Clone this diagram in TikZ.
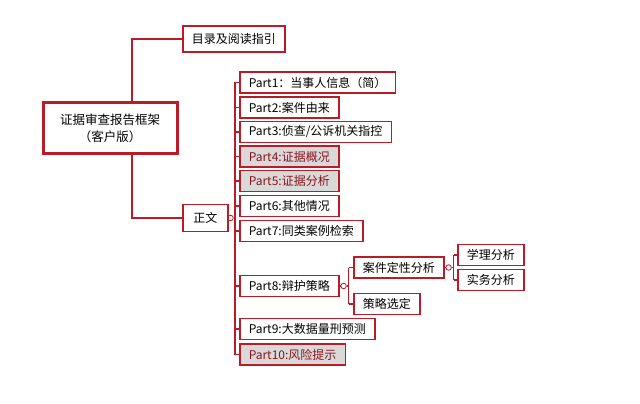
\documentclass[tikz,border=0pt]{standalone}
\usepackage{fontspec}
\setmainfont{Noto Sans CJK SC}
\definecolor{frame}{RGB}{185,28,38}
\definecolor{shade}{RGB}{217,217,217}
\definecolor{darktext}{RGB}{140,20,30}

\begin{document}
\begin{tikzpicture}[x=1pt, y=-1pt, font=\fontsize{12}{14}\selectfont, line width=1.6pt,
        box/.style={draw=frame, fill=white, anchor=west, minimum height=21pt, inner xsep=9pt, inner ysep=0pt},
        greybox/.style={box, fill=shade, text=darktext},
        dot/.style={circle, draw=frame, fill=white, line width=0.8pt, inner sep=0pt, minimum size=5.5pt},
        link/.style={draw=frame, line width=1.5pt}]
        \useasboundingbox (0,0) rectangle (640,404);

        \node[draw=frame, line width=3pt, fill=white, align=center, minimum width=134pt, minimum height=51pt,
        font=\fontsize{12.5}{17}\selectfont]
        (root) at (110,128) {证据审查报告框架\\（客户版）};
        \node[box, minimum width=100pt, minimum height=26pt] (toc) at (182,39) {目录及阅读指引};
        \node[box, minimum width=45pt, minimum height=27pt] (body) at (182,218) {正文};

        \node[box] (p1) at (239,82.5) {Part1：当事人信息（简）};
        \node[box] (p2) at (239,107.5) {Part2:案件由来};
        \node[box] (p3) at (239,132) {Part3:侦查/公诉机关指控};
        \node[greybox] (p4) at (239,156.5) {Part4:证据概况};
        \node[greybox] (p5) at (239,181) {Part5:证据分析};
        \node[box] (p6) at (239,206) {Part6:其他情况};
        \node[box] (p7) at (239,231) {Part7:同类案例检索};
        \node[box] (p8) at (239,286) {Part8:辩护策略};
        \node[box] (p9) at (239,329) {Part9:大数据量刑预测};
        \node[greybox] (p10) at (239,354.5) {Part10:风险提示};

        \node[box] (nature) at (353,267.5) {案件定性分析};
        \node[box] (choice) at (353,304) {策略选定};
        \node[box] (theory) at (457,255) {学理分析};
        \node[box] (practice) at (457,280) {实务分析};

        % knots and trunk points
        \node[dot] (k0) at (230.5,218) {};
        \node[dot] (k8) at (p8.east) [xshift=4pt] {};
        \node[dot] (kn) at (nature.east) [xshift=4pt] {};
        \coordinate (t0) at (235,218);
        \coordinate (t8) at ([xshift=5pt]k8.center);
        \coordinate (tn) at ([xshift=5pt]kn.center);

        % root branches
        \draw[link, line width=2pt] ([xshift=22pt]root.north) |- (toc.west);
        \draw[link, line width=2pt] ([xshift=22pt]root.south) |- (body.west);

        % body branches
        \draw[link] (body.east) -- (k0.west);
        \draw[link] (k0.east) -- (t0);
        \draw[link] (t0 |- p1.west) -- (t0 |- p10.west);
        \draw[link] (t0 |- p1.west) -- (p1.west);
        \draw[link] (t0 |- p2.west) -- (p2.west);
        \draw[link] (t0 |- p3.west) -- (p3.west);
        \draw[link] (t0 |- p4.west) -- (p4.west);
        \draw[link] (t0 |- p5.west) -- (p5.west);
        \draw[link] (t0 |- p6.west) -- (p6.west);
        \draw[link] (t0 |- p7.west) -- (p7.west);
        \draw[link] (t0 |- p8.west) -- (p8.west);
        \draw[link] (t0 |- p9.west) -- (p9.west);
        \draw[link] (t0 |- p10.west) -- (p10.west);

        % Part8 branches
        \draw[link] (p8.east) -- (k8.west);
        \draw[link] (k8.east) -- (t8);
        \draw[link] (t8 |- nature.west) -- (t8 |- choice.west);
        \draw[link] (t8 |- nature.west) -- (nature.west);
        \draw[link] (t8 |- choice.west) -- (choice.west);

        % nature branches
        \draw[link] (nature.east) -- (kn.west);
        \draw[link] (kn.east) -- (tn);
        \draw[link] (tn |- theory.west) -- (tn |- practice.west);
        \draw[link] (tn |- theory.west) -- (theory.west);
        \draw[link] (tn |- practice.west) -- (practice.west);
\end{tikzpicture}
\end{document}
